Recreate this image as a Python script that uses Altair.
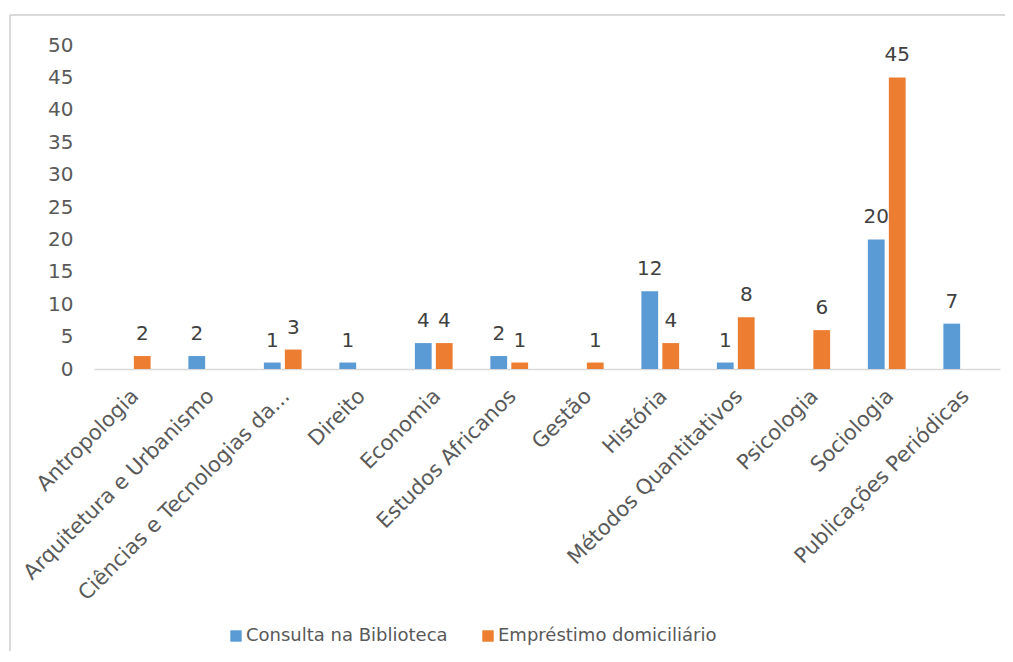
import altair as alt
import pandas as pd

categories = ["Antropologia", "Arquitetura e Urbanismo", "Ciências e Tecnologias da...",
              "Direito", "Economia", "Estudos Africanos", "Gestão", "História",
              "Métodos Quantitativos", "Psicologia", "Sociologia", "Publicações Periódicas"]
series = ["Consulta na Biblioteca", "Empréstimo domiciliário"]
consulta = [None, 2, 1, 1, 4, 2, None, 12, 1, None, 20, 7]
emprestimo = [2, None, 3, None, 4, 1, 1, 4, 8, 6, 45, None]
y_ticks = [0, 5, 10, 15, 20, 25, 30, 35, 40, 45, 50]

rows = []
for c, a, b in zip(categories, consulta, emprestimo):
    if a is not None:
        rows.append({"cat": c, "serie": series[0], "v": a})
    if b is not None:
        rows.append({"cat": c, "serie": series[1], "v": b})
df = pd.DataFrame(rows)

FONT = "DejaVu Sans"
colors = ["#5B9BD5", "#ED7D31"]

x = alt.X("cat:N", sort=categories, title=None,
          scale=alt.Scale(paddingInner=0.5, paddingOuter=0.25),
          axis=alt.Axis(labelAngle=-45, labelAlign="right", labelBaseline="top",
                        labelFontSize=21, labelColor="#595959", labelFont=FONT,
                        labelPadding=16, labelOffset=-4, ticks=False, domainColor="#D9D9D9",
                        domainWidth=1.5, labelLimit=400, labelOverlap=False))
xo = alt.XOffset("serie:N", sort=series, scale=alt.Scale(paddingInner=0.2, paddingOuter=0))
y = alt.Y("v:Q", title=None,
          scale=alt.Scale(domain=[0, 50], nice=False),
          axis=alt.Axis(values=y_ticks, grid=False, domain=False, ticks=False,
                        labelFontSize=20, labelColor="#595959", labelFont=FONT,
                        labelPadding=21, labelOverlap=False))

bars = alt.Chart(df).mark_bar().encode(
    x=x, xOffset=xo, y=y,
    color=alt.Color("serie:N", sort=series, scale=alt.Scale(domain=series, range=colors),
                    legend=alt.Legend(title=None, orient="none", legendX=133, legendY=582,
                                      direction="horizontal", symbolType="square",
                                      symbolSize=130, symbolStrokeWidth=0,
                                      labelFontSize=18, labelColor="#595959", labelFont=FONT,
                                      labelOffset=1, columnPadding=31, labelLimit=500)),
)

labels = alt.Chart(df).mark_text(baseline="alphabetic", dy=-16, fontSize=20,
                                 color="#404040", font=FONT).encode(
    x=x, xOffset=xo, y=y, text="v:Q")

frame = pd.DataFrame({"a": [0]})
border_top = alt.Chart(frame).mark_rule(color="#D9D9D9", strokeWidth=2).encode(
    x=alt.value(-84), x2=alt.value(1100), y=alt.value(-30))
border_left = alt.Chart(frame).mark_rule(color="#D9D9D9", strokeWidth=2).encode(
    x=alt.value(-84), y=alt.value(-30), y2=alt.value(800))

chart = alt.layer(border_top, border_left, bars, labels).properties(
    width=906, height=324,
    padding={"left": 86, "top": 37, "right": 5, "bottom": 282},
    autosize=alt.AutoSizeParams(type="none"),
).configure_view(stroke=None)

chart.save("out.html", embed_options={"renderer": "svg", "actions": False})
